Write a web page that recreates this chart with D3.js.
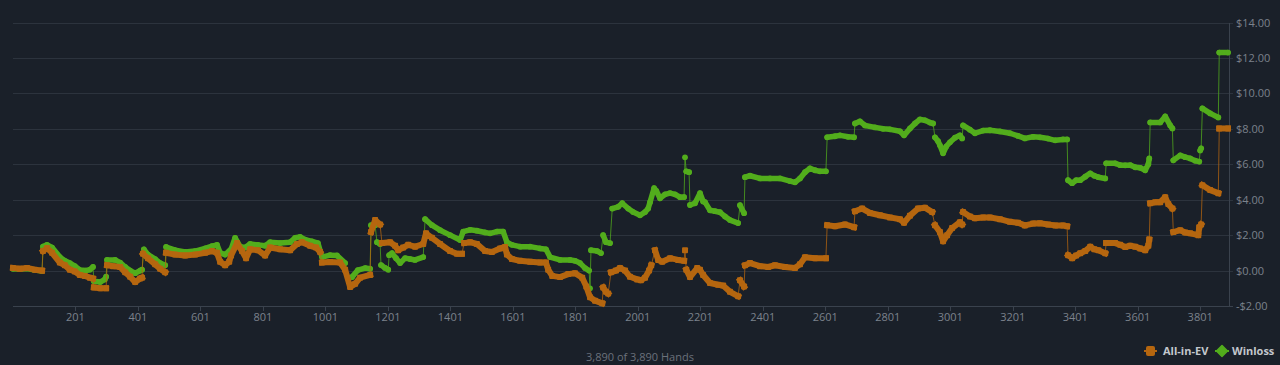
<!DOCTYPE html>
<html>
<head>
<meta charset="utf-8">
<script src="https://cdn.jsdelivr.net/npm/d3@7"></script>
<style>
  html, body { margin: 0; padding: 0; background: #1a2029; }
  svg { display: block; font-family: "Open Sans", "DejaVu Sans", sans-serif; }
</style>
</head>
<body>
<svg id="chart" width="1280" height="365"></svg>
<script>
// ---- Data ----
const totalHands = 3890;
const xTickValues = [201, 401, 601, 801, 1001, 1201, 1401, 1601, 1801, 2001, 2201, 2401, 2601, 2801, 3001, 3201, 3401, 3601, 3801];
const yTickValues = [-2, 0, 2, 4, 6, 8, 10, 12, 14];
const seriesNames = ["All-in-EV", "Winloss"];

const evHands = [1,23,46,71,94,97,110,126,151,167,183,199,215,231,247,257,260,280,299,302,321,344,360,376,392,408,414,417,433,456,472,488,491,520,552,584,616,638,654,664,680,693,699,718,734,747,760,785,808,824,856,888,910,926,952,971,984,990,1016,1048,1064,1080,1096,1112,1144,1147,1160,1176,1182,1208,1224,1234,1250,1266,1288,1314,1323,1342,1368,1400,1422,1438,1445,1464,1486,1512,1534,1560,1576,1582,1598,1624,1656,1688,1707,1714,1727,1752,1778,1800,1823,1836,1848,1864,1887,1890,1899,1906,1915,1931,1944,1960,1976,1999,2011,2024,2037,2044,2056,2066,2079,2104,2130,2149,2152,2156,2168,2191,2200,2210,2232,2258,2274,2296,2322,2328,2341,2344,2360,2392,2418,2440,2472,2504,2520,2536,2568,2603,2607,2632,2664,2693,2696,2719,2744,2776,2808,2840,2853,2872,2898,2920,2943,2952,2968,2978,2991,3007,3032,3039,3042,3064,3080,3106,3128,3160,3192,3218,3240,3266,3288,3314,3337,3362,3375,3378,3391,3404,3417,3433,3449,3462,3475,3497,3500,3529,3545,3561,3577,3593,3609,3625,3635,3638,3641,3657,3673,3689,3699,3712,3715,3737,3753,3769,3795,3798,3804,3808,3833,3859,3862,3890];
const evValues = [0.15,0.10,0.15,0.05,0.00,1.10,1.27,1.00,0.45,0.30,0.05,-0.05,-0.25,-0.30,-0.40,-0.45,-0.95,-1.00,-1.00,0.30,0.25,0.20,-0.10,-0.35,-0.65,-0.45,-0.40,0.95,0.70,0.35,0.10,-0.10,1.00,0.90,0.85,0.90,1.00,1.10,1.00,0.50,0.30,0.50,0.85,1.55,1.10,0.70,1.20,1.15,0.85,1.30,1.20,1.15,1.50,1.60,1.40,1.30,1.05,0.45,0.48,0.45,0.05,-0.93,-0.75,-0.40,-0.25,2.17,2.85,2.60,1.55,1.60,1.40,1.15,1.30,1.45,1.35,1.50,2.10,1.85,1.50,1.10,0.95,0.95,1.55,1.60,1.50,1.10,1.05,1.25,1.33,0.90,0.65,0.55,0.50,0.45,0.45,0.05,-0.30,-0.37,-0.20,-0.15,-0.40,-0.90,-1.50,-1.70,-1.85,-0.95,-1.20,-1.30,-0.10,0.00,0.15,0.00,-0.35,-0.50,-0.55,-0.40,0.00,0.30,1.15,0.60,0.50,0.70,0.60,0.55,1.15,0.05,-0.37,0.14,0.05,-0.25,-0.70,-0.80,-0.85,-1.20,-1.45,-0.55,-0.90,0.30,0.42,0.25,0.20,0.30,0.20,0.15,0.35,0.75,0.70,0.70,2.56,2.50,2.60,2.45,3.35,3.50,3.25,3.12,3.00,2.90,2.70,3.10,3.50,3.55,3.30,2.56,2.17,1.65,2.00,2.40,2.73,2.60,3.30,3.05,2.95,3.00,3.00,2.90,2.75,2.70,2.55,2.65,2.67,2.60,2.55,2.55,2.50,0.87,0.70,0.85,0.98,1.10,1.35,1.20,1.15,0.98,1.55,1.55,1.45,1.33,1.40,1.35,1.25,1.15,1.40,1.75,3.80,3.85,3.86,4.14,3.75,3.50,2.17,2.28,2.15,2.10,2.00,2.45,2.60,4.82,4.54,4.37,8.02,8.02];

const wlHands = [1,23,46,71,94,97,110,126,151,167,183,199,215,235,247,257,260,280,295,299,302,328,344,360,376,392,408,414,420,433,456,472,488,491,520,552,584,616,638,654,664,680,693,699,712,728,744,760,785,808,824,856,888,904,920,936,958,977,990,1016,1038,1064,1073,1086,1105,1128,1144,1147,1160,1166,1176,1179,1192,1202,1205,1214,1227,1240,1256,1272,1288,1314,1320,1342,1368,1400,1432,1442,1464,1486,1512,1528,1550,1570,1582,1598,1624,1656,1688,1707,1720,1752,1784,1800,1816,1832,1845,1848,1851,1871,1883,1890,1899,1912,1919,1938,1951,1970,1986,2008,2024,2034,2040,2053,2060,2072,2088,2104,2120,2136,2149,2152,2156,2165,2168,2184,2200,2210,2216,2232,2248,2264,2280,2296,2322,2328,2341,2344,2360,2392,2424,2456,2488,2504,2520,2536,2552,2568,2584,2603,2607,2632,2648,2674,2693,2696,2712,2728,2760,2786,2808,2840,2853,2872,2888,2904,2920,2936,2946,2952,2962,2968,2978,2988,3000,3016,3032,3039,3042,3064,3080,3106,3128,3160,3192,3218,3240,3266,3288,3314,3337,3362,3375,3378,3391,3404,3417,3433,3449,3462,3475,3497,3500,3529,3545,3561,3577,3593,3609,3625,3635,3638,3641,3673,3689,3705,3712,3715,3737,3753,3769,3785,3798,3801,3804,3808,3833,3859,3862,3890];
const wlValues = [0.10,0.08,0.12,0.03,-0.02,1.35,1.45,1.30,0.76,0.55,0.42,0.25,0.03,0.00,0.05,0.20,-0.60,-0.65,-0.50,-0.35,0.60,0.60,0.45,0.20,0.00,-0.15,0.00,0.05,1.20,0.90,0.65,0.42,0.30,1.33,1.15,1.05,1.10,1.25,1.38,1.45,1.00,0.90,1.10,1.20,1.85,1.35,1.30,1.50,1.45,1.40,1.60,1.55,1.60,1.85,1.90,1.75,1.65,1.55,0.76,0.87,0.85,0.42,-0.40,-0.37,0.03,0.14,0.10,2.56,2.56,1.60,1.50,0.31,0.15,0.05,0.87,0.98,0.70,0.42,0.70,0.65,0.60,0.76,2.90,2.56,2.28,2.00,1.72,2.20,2.30,2.25,2.15,2.10,2.20,2.20,1.60,1.45,1.35,1.35,1.25,1.20,0.76,0.60,0.60,0.55,0.42,0.14,0.00,-1.00,1.15,1.10,0.98,2.00,1.60,1.55,3.50,3.60,3.80,3.50,3.30,3.12,3.30,3.50,3.86,4.65,4.50,4.08,4.30,4.37,4.30,4.14,4.15,6.39,5.60,5.55,3.70,3.80,4.37,3.90,3.86,3.40,3.35,3.29,3.05,2.85,2.68,3.69,3.24,5.27,5.35,5.20,5.20,5.20,5.05,4.98,5.20,5.55,5.77,5.66,5.60,5.60,7.52,7.58,7.63,7.55,7.52,8.30,8.42,8.19,8.08,8.00,7.97,7.86,7.63,8.02,8.30,8.53,8.48,8.35,8.30,7.52,7.30,7.07,6.62,7.00,7.24,7.50,7.63,7.46,8.19,7.95,7.75,7.90,7.92,7.85,7.75,7.60,7.46,7.55,7.52,7.45,7.35,7.40,7.40,5.10,4.93,5.10,5.10,5.30,5.49,5.35,5.27,5.20,6.05,6.05,5.95,5.94,5.95,5.83,5.80,5.66,6.00,6.33,8.36,8.36,8.70,8.19,8.02,6.22,6.50,6.40,6.33,6.20,6.15,6.78,6.90,9.15,8.87,8.64,12.30,12.30];

// ---- Styling ----
const colors = { ev: "#b5660f", wl: "#52ad1c" };
const gridColor = "#2c333d";
const axisColor = "#3a424d";
const labelColor = "#7c828c";

const svg = d3.select("#chart");
const x = d3.scaleLinear().domain([1, totalHands]).range([13, 1228]);
const y = d3.scaleLinear().domain([-2, 14]).range([306, 22.5]);

// grid lines
svg.append("g").selectAll("line").data(yTickValues).join("line")
  .attr("x1", 13).attr("x2", 1233)
  .attr("y1", d => Math.round(y(d)) + 0.5).attr("y2", d => Math.round(y(d)) + 0.5)
  .attr("stroke", d => d === -2 ? axisColor : gridColor).attr("stroke-width", 1);

// right axis line
svg.append("line").attr("x1", 1229.5).attr("x2", 1229.5)
  .attr("y1", Math.round(y(14))).attr("y2", Math.round(y(-2)) + 1)
  .attr("stroke", axisColor);

// y labels
svg.append("g").selectAll("text").data(yTickValues).join("text")
  .attr("x", 1236).attr("y", d => y(d) + 4)
  .attr("fill", labelColor).attr("font-size", 11)
  .text(d => (d < 0 ? "-$" : "$") + Math.abs(d).toFixed(2));

// x ticks and labels
const xg = svg.append("g");
xg.selectAll("line").data(xTickValues).join("line")
  .attr("x1", d => Math.round(x(d)) + 0.5).attr("x2", d => Math.round(x(d)) + 0.5)
  .attr("y1", 306).attr("y2", 311).attr("stroke", axisColor);
xg.selectAll("text").data(xTickValues).join("text")
  .attr("x", d => x(d)).attr("y", 321).attr("text-anchor", "middle")
  .attr("fill", labelColor).attr("font-size", 11).text(d => d);

// series drawing
function drawSeries(hands, values, color, thick, marker) {
  const pts = hands.map((h, i) => [x(h), y(values[i])]);
  const g = svg.append("g");
  // thin connecting line through all points
  g.append("path").attr("d", d3.line()(pts)).attr("fill", "none")
    .attr("stroke", color).attr("stroke-width", 1).attr("stroke-opacity", 0.75);
  // runs of dense markers (not separated by jumps)
  const runs = [];
  let cur = [pts[0]];
  for (let i = 1; i < pts.length; i++) {
    const dx = pts[i][0] - pts[i - 1][0];
    const dy = Math.abs(pts[i][1] - pts[i - 1][1]);
    if (dy > 8 && dy > 4 * dx) { runs.push(cur); cur = [pts[i]]; }
    else cur.push(pts[i]);
  }
  runs.push(cur);
  g.selectAll("path.run").data(runs.filter(r => r.length > 1)).join("path")
    .attr("class", "run").attr("d", r => d3.line()(r)).attr("fill", "none")
    .attr("stroke", color).attr("stroke-width", thick)
    .attr("stroke-linejoin", "round").attr("stroke-linecap", marker === "square" ? "square" : "round");
  if (marker === "square") {
    g.selectAll("rect").data(pts).join("rect")
      .attr("x", p => p[0] - 3).attr("y", p => p[1] - 3).attr("width", 6).attr("height", 6)
      .attr("rx", 1).attr("fill", color);
  } else {
    g.selectAll("circle").data(pts).join("circle")
      .attr("cx", p => p[0]).attr("cy", p => p[1]).attr("r", 2.9).attr("fill", color);
  }
}
drawSeries(wlHands, wlValues, colors.wl, 5.5, "circle");
drawSeries(evHands, evValues, colors.ev, 6, "square");

// title
svg.append("text").attr("x", 640).attr("y", 361).attr("text-anchor", "middle")
  .attr("fill", "#6b717b").attr("font-size", 11).text("3,890 of 3,890 Hands");

// legend
const lg = svg.append("g").attr("font-size", 11).attr("font-weight", "bold").attr("fill", "#c3c7cd");
lg.append("line").attr("x1", 1144).attr("x2", 1157).attr("y1", 351).attr("y2", 351)
  .attr("stroke", colors.ev).attr("stroke-width", 2);
lg.append("rect").attr("x", 1146).attr("y", 346).attr("width", 9).attr("height", 10).attr("rx", 2)
  .attr("fill", colors.ev);
lg.append("text").attr("x", 1163).attr("y", 355).text(seriesNames[0]);
lg.append("line").attr("x1", 1215).attr("x2", 1229).attr("y1", 351).attr("y2", 351)
  .attr("stroke", colors.wl).attr("stroke-width", 2);
lg.append("path").attr("d", "M1222,345.5 L1227.5,351 L1222,356.5 L1216.5,351 Z")
  .attr("fill", colors.wl).attr("stroke", colors.wl).attr("stroke-width", 1.5).attr("stroke-linejoin", "round");
lg.append("text").attr("x", 1232).attr("y", 355).text(seriesNames[1]);
</script>
</body>
</html>
